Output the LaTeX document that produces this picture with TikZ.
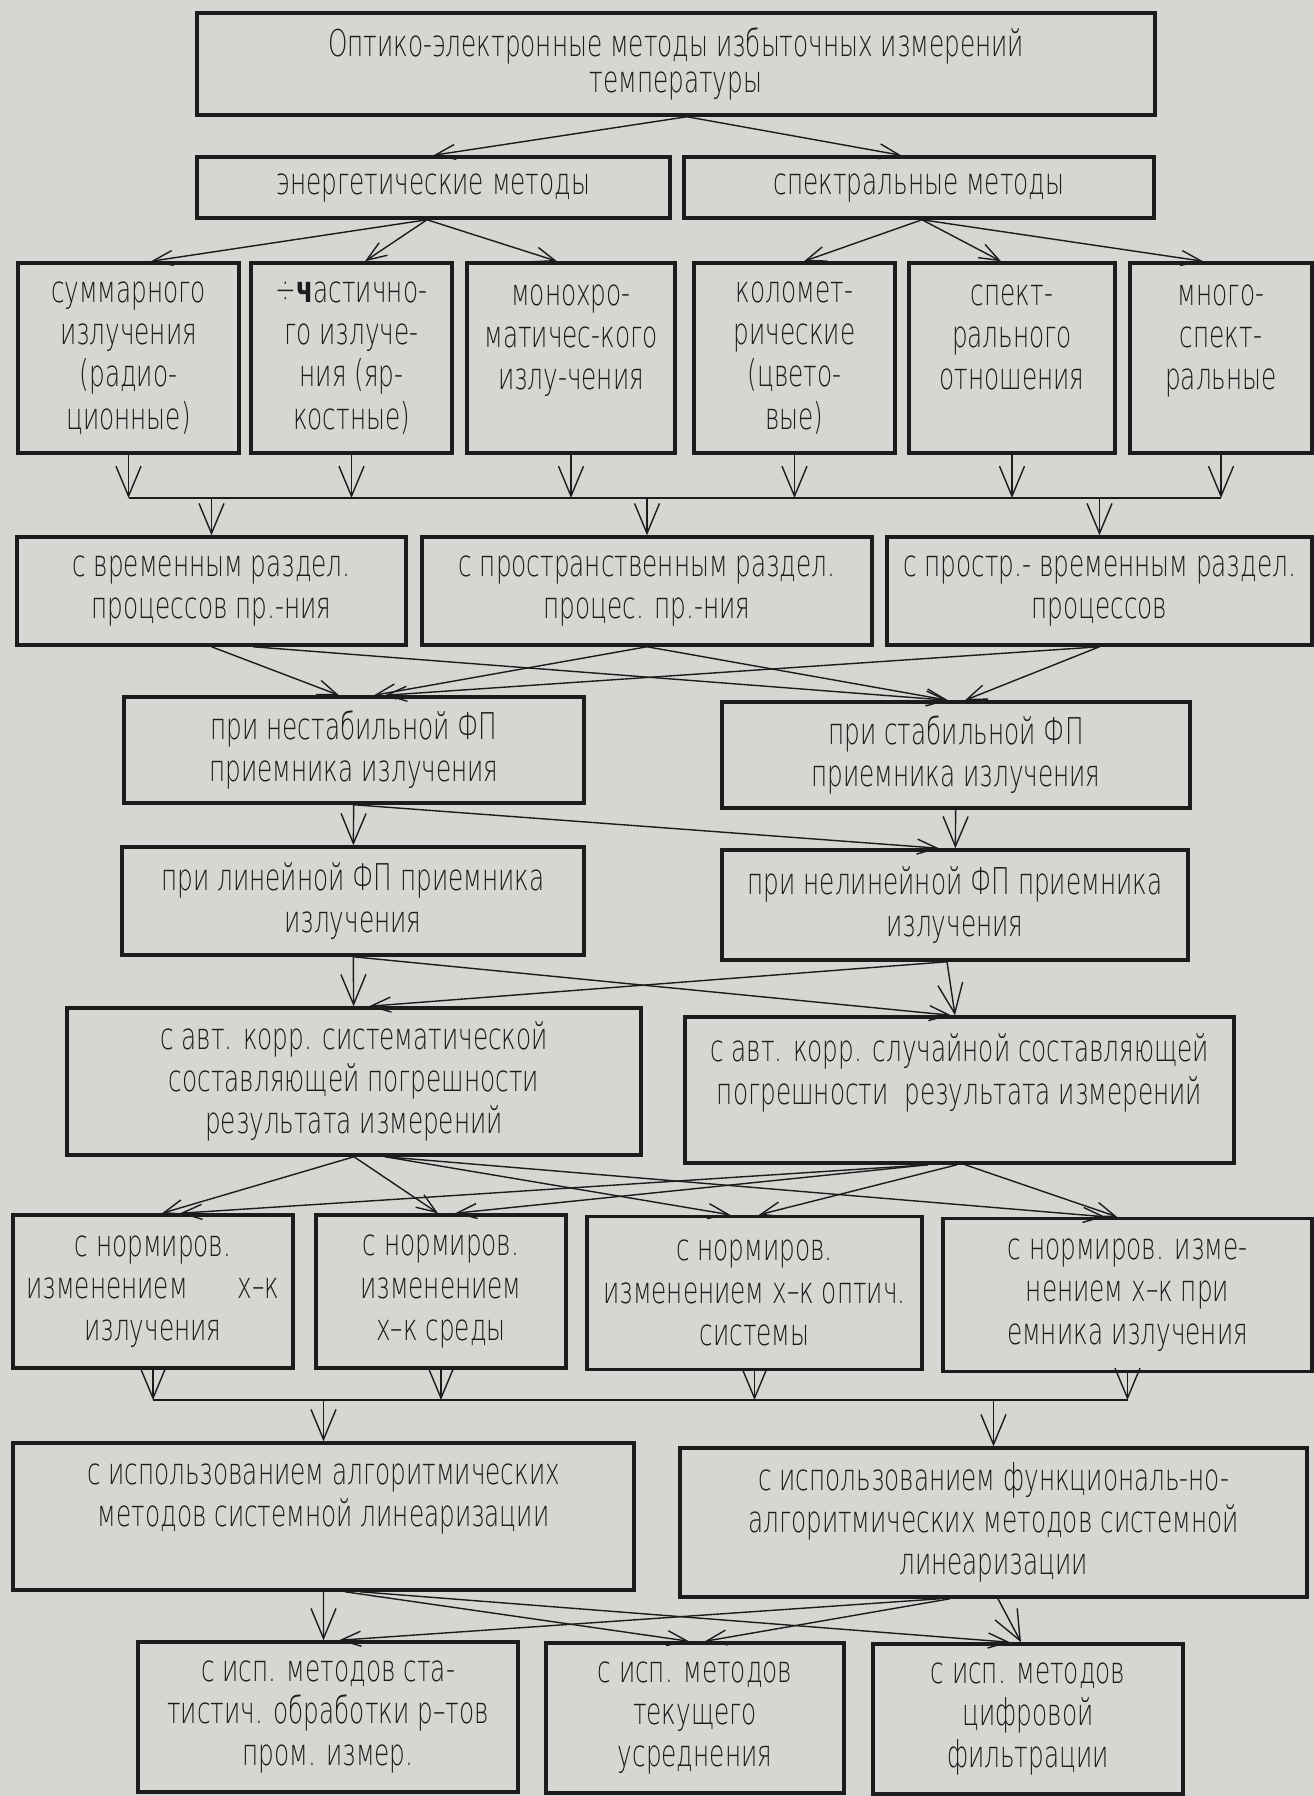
\documentclass[tikz,border=0pt]{standalone}
\usepackage{fontspec}
\setmainfont{DejaVu Sans ExtraLight}[FakeStretch=0.67]
\newfontfamily\heavyfont{DejaVu Sans}[FakeStretch=0.67]
\usepackage{tikz}
\usetikzlibrary{arrows.meta, positioning, calc}
\definecolor{paper}{RGB}{214,214,211}
\definecolor{ink}{RGB}{28,28,28}
\tikzset{
    block/.style={rectangle, draw=ink, line width=2pt, text=ink, align=center, inner sep=1pt, font={\fontsize{21pt}{24pt}\selectfont}},
    arrow/.style={draw=ink, line width=0.8pt, -{Straight Barb[length=4mm, width=3mm]}},
    drop/.style={draw=ink, line width=0.8pt, -{Straight Barb[length=6mm, width=5mm]}},
    bus/.style={draw=ink, line width=0.8pt}
}

\begin{document}
\begin{tikzpicture}[x=0.02cm, y=-0.02cm]

    \useasboundingbox (0,0) rectangle (1314,1796);
    \fill [paper] (0,0) rectangle (1314,1796);

    % Root and first split
    \node (top) [block, minimum width=19.16cm, minimum height=2.04cm, font={\fontsize{21pt}{20pt}\selectfont}] at (676,64) {Оптико-электронные методы избыточных измерений\\температуры};
    \node (energ) [block, minimum width=9.46cm, minimum height=1.22cm] at (433.5,187.5) {энергетические методы};
    \node (spectr) [block, minimum width=9.40cm, minimum height=1.22cm] at (919,187.5) {спектральные методы};

    % Kinds of radiation measurement
    \node (s1) [block, minimum width=4.42cm, minimum height=3.80cm] at (128.5,358) {суммарного\\излучения\\(радио-\\ционные)};
    \node (s2) [block, minimum width=4.02cm, minimum height=3.80cm] at (351.5,358) {÷{\heavyfont\bfseries ч}астично-\\го излуче-\\ния (яр-\\костные)};
    \node (s3) [block, minimum width=4.16cm, minimum height=3.80cm] at (571,358) {монохро-\\матичес-кого\\излу-чения\\~};
    \node (s4) [block, minimum width=4.02cm, minimum height=3.80cm] at (794.5,358) {коломет-\\рические\\(цвето-\\вые)};
    \node (s5) [block, minimum width=4.12cm, minimum height=3.80cm] at (1012,358) {спект-\\рального\\отношения\\~};
    \node (s6) [block, minimum width=3.64cm, minimum height=3.80cm] at (1221,358) {много-\\спект-\\ральные\\~};

    % Separation of processes
    \node (t1) [block, minimum width=7.78cm, minimum height=2.16cm] at (211.5,591) {с временным раздел.\\процессов пр.-ния};
    \node (t2) [block, minimum width=9.00cm, minimum height=2.16cm] at (647,591) {с пространственным раздел.\\процес. пр.-ния};
    \node (t3) [block, minimum width=8.50cm, minimum height=2.16cm] at (1099.5,591) {с простр.- временным раздел.\\процессов};

    % Receiver characteristic
    \node (unst) [block, minimum width=9.20cm, minimum height=2.12cm] at (354,750) {при нестабильной ФП\\приемника излучения};
    \node (stab) [block, minimum width=9.36cm, minimum height=2.12cm] at (956,755) {при стабильной ФП\\приемника излучения};
    \node (lin) [block, minimum width=9.24cm, minimum height=2.16cm] at (353,901) {при линейной ФП приемника\\излучения};
    \node (nonlin) [block, minimum width=9.32cm, minimum height=2.20cm] at (955,905) {при нелинейной ФП приемника\\излучения};

    % Error correction
    \node (syst) [block, minimum width=11.48cm, minimum height=2.94cm] at (354,1081.5) {с авт. корр. систематической\\составляющей погрешности\\результата измерений};
    \node (rand) [block, minimum width=10.98cm, minimum height=2.92cm] at (959.5,1090) {с авт. корр. случайной составляющей\\погрешности\ \ результата измерений\\~};

    % Normalized changes
    \node (n1) [block, minimum width=5.60cm, minimum height=3.06cm] at (153,1291.5) {с нормиров.\\изменением\hspace{1cm}х–к\\излучения};
    \node (n2) [block, minimum width=5.00cm, minimum height=3.06cm] at (441,1291.5) {с нормиров.\\изменением\\х–к среды};
    \node (n3) [block, minimum width=6.70cm, minimum height=3.06cm] at (754.5,1293) {с нормиров.\\изменением х–к оптич.\\системы};
    \node (n4) [block, minimum width=7.38cm, minimum height=3.06cm] at (1127.5,1295) {с нормиров. изме-\\нением х–к при\\емника излучения};

    % Linearization
    \node (alg) [block, minimum width=12.42cm, minimum height=2.94cm] at (323.5,1516.5) {с использованием алгоритмических\\методов системной линеаризации\\~};
    \node (func) [block, minimum width=12.54cm, minimum height=2.98cm] at (993.5,1522.5) {с использованием функциональ-но-\\алгоритмических методов системной\\линеаризации};

    % Processing methods
    \node (m1) [block, minimum width=7.60cm, minimum height=3.00cm] at (328,1717) {с исп. методов ста-\\тистич. обработки р–тов\\пром. измер.};
    \node (m2) [block, minimum width=5.96cm, minimum height=3.00cm] at (695,1718) {с исп. методов\\текущего\\усреднения};
    \node (m3) [block, minimum width=6.20cm, minimum height=3.00cm] at (1028,1719) {с исп. методов\\цифровой\\фильтрации};

    % Bus lines
    \coordinate (busA) at (0,498);
    \coordinate (busB) at (0,1400);

    % Root to methods
    \draw [arrow] ([xshift=0.22cm]top.south) -- (energ.north);
    \draw [arrow] ([xshift=0.22cm]top.south) -- ([xshift=-0.36cm]spectr.north);

    % Methods to kinds
    \draw [arrow] ([xshift=-0.13cm]energ.south) -- ([xshift=0.45cm]s1.north);
    \draw [arrow] ([xshift=-0.13cm]energ.south) -- ([xshift=0.27cm]s2.north);
    \draw [arrow] ([xshift=-0.13cm]energ.south) -- ([xshift=-0.28cm]s3.north);
    \draw [arrow] ([xshift=0.06cm]spectr.south) -- ([xshift=0.19cm]s4.north);
    \draw [arrow] ([xshift=0.06cm]spectr.south) -- ([xshift=-0.22cm]s5.north);
    \draw [arrow] ([xshift=0.06cm]spectr.south) -- ([xshift=-0.36cm]s6.north);

    % Kinds to first bus, bus to separation
    \draw [drop] (s1.south) -- (s1.south |- busA);
    \draw [drop] (s2.south) -- (s2.south |- busA);
    \draw [drop] (s3.south) -- (s3.south |- busA);
    \draw [drop] (s4.south) -- (s4.south |- busA);
    \draw [drop] (s5.south) -- (s5.south |- busA);
    \draw [drop] (s6.south) -- (s6.south |- busA);
    \draw [bus] (s1.south |- busA) -- (s6.south |- busA);
    \draw [drop] (t1.north |- busA) -- (t1.north);
    \draw [drop] (t2.north |- busA) -- (t2.north);
    \draw [drop] (t3.north |- busA) -- (t3.north);

    % Separation to receiver stability
    \draw [arrow] (t1.south) -- ([xshift=-0.30cm]unst.north);
    \draw [arrow] ([xshift=0.83cm]t1.south) -- ([xshift=-0.16cm]stab.north);
    \draw [arrow] (t2.south) -- ([xshift=0.40cm]unst.north);
    \draw [arrow] (t2.south) -- ([xshift=-0.16cm]stab.north);
    \draw [arrow] (t3.south) -- ([xshift=0.62cm]unst.north);
    \draw [arrow] (t3.south) -- ([xshift=0.18cm]stab.north);

    % Stability to linearity
    \draw [drop] (unst) -- (lin);
    \draw [arrow] (unst.south) -- ([xshift=-0.32cm]nonlin.north);
    \draw [drop] (stab) -- (nonlin);

    % Linearity to error correction
    \draw [drop] (lin) -- (syst);
    \draw [arrow] (lin.south) -- ([xshift=-0.17cm]rand.north);
    \draw [drop] ([xshift=-0.16cm]nonlin.south) -- ([xshift=-0.09cm]rand.north);
    \draw [arrow] ([xshift=-0.16cm]nonlin.south) -- ([xshift=0.30cm]syst.north);

    % Error correction to normalized changes
    \draw [arrow] (syst.south) -- ([xshift=0.18cm]n1.north);
    \draw [arrow] (syst.south) -- ([xshift=-0.06cm]n2.north);
    \draw [arrow] ([xshift=0.62cm]syst.south) -- ([xshift=-0.49cm]n3.north);
    \draw [arrow] ([xshift=0.62cm]syst.south) -- ([xshift=-0.45cm]n4.north);
    \draw [arrow] ([xshift=-0.63cm]rand.south) -- ([xshift=0.54cm]n1.north);
    \draw [arrow] ([xshift=-0.63cm]rand.south) -- ([xshift=0.28cm]n2.north);
    \draw [arrow] ([xshift=-0.05cm]rand.south) -- ([xshift=0.09cm]n3.north);
    \draw [arrow] ([xshift=0.11cm]rand.south) -- ([xshift=-0.21cm]n4.north);

    % Normalized changes to second bus, bus to linearization
    \draw [drop] (n1.south) -- (n1.south |- busB);
    \draw [drop] (n2.south) -- (n2.south |- busB);
    \draw [drop] (n3.south) -- (n3.south |- busB);
    \draw [drop] (n4.south) -- (n4.south |- busB);
    \draw [bus] (n1.south |- busB) -- (n4.south |- busB);
    \draw [drop] (alg.north |- busB) -- (alg.north);
    \draw [drop] (func.north |- busB) -- (func.north);

    % Linearization to processing methods
    \draw [drop] (alg.south) -- ([xshift=-0.09cm]m1.north);
    \draw [arrow] ([xshift=0.43cm]alg.south) -- ([xshift=-0.12cm]m2.north);
    \draw [arrow] ([xshift=0.73cm]alg.south) -- ([xshift=-0.36cm]m3.north);
    \draw [arrow] ([xshift=-1.07cm]func.south) -- ([xshift=0.22cm]m1.north);
    \draw [arrow] ([xshift=-0.87cm]func.south) -- ([xshift=0.20cm]m2.north);
    \draw [drop] ([xshift=0.09cm]func.south) -- ([xshift=-0.14cm]m3.north);

\end{tikzpicture}
\end{document}
